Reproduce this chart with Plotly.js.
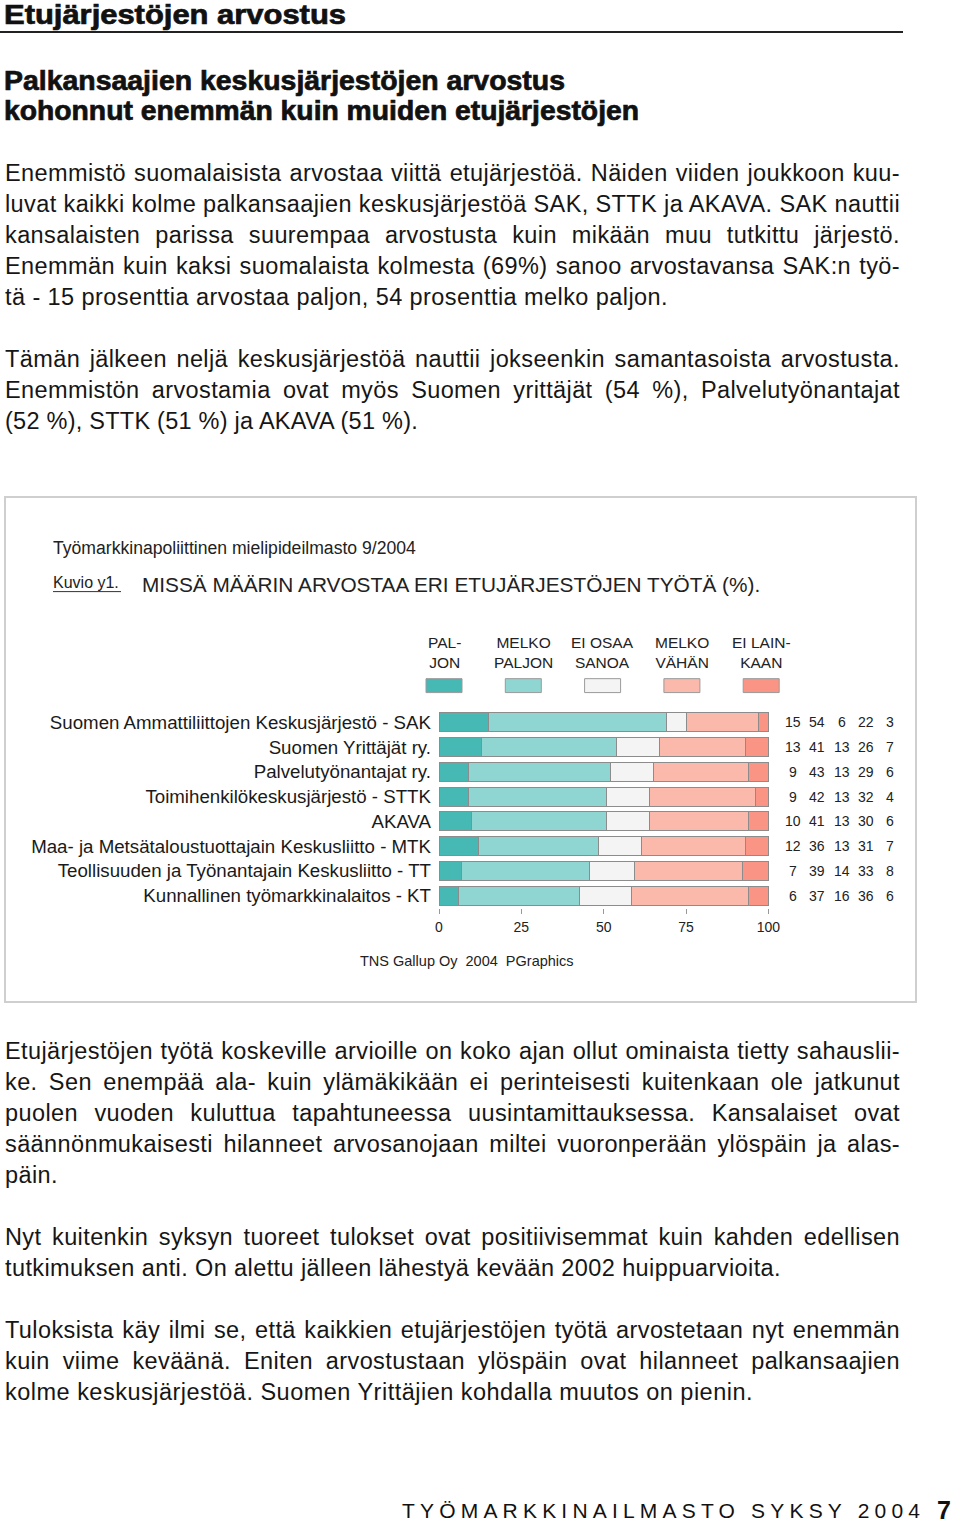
<!DOCTYPE html>
<html><head><meta charset="utf-8">
<script src="https://cdn.plot.ly/plotly-3.0.1.min.js"></script>
<style>
html,body{margin:0;padding:0;background:#fff;}
body{width:960px;height:1523px;position:relative;overflow:hidden;font-family:"Liberation Sans",Arial,sans-serif;color:#161616;}
.ln{position:absolute;left:5px;white-space:nowrap;font-family:"Liberation Sans Narrow","Liberation Sans",sans-serif;font-size:23.5px;line-height:30px;display:inline-block;}
.hd{position:absolute;left:4px;white-space:nowrap;font-family:"Liberation Sans Narrow","Liberation Sans",sans-serif;font-weight:bold;font-size:27px;line-height:28px;transform-origin:0 50%;display:inline-block;color:#111;-webkit-text-stroke:0.7px #111;}
#rule{position:absolute;left:0;top:31px;width:903px;height:0;border-top:2px solid #222;}
#box{position:absolute;left:4px;top:496px;width:913px;height:507px;box-sizing:border-box;border:2px solid #cfcfcf;}
#chart{position:absolute;left:0;top:0;width:960px;height:1523px;z-index:2;}
#foot{position:absolute;left:402px;top:1498px;font-size:21px;line-height:26px;white-space:nowrap;display:inline-block;color:#111;}
#pg{position:absolute;left:937px;top:1497px;font-size:25px;font-weight:bold;line-height:26px;color:#111;}
</style></head><body>
<div class="hd" style="top:1px" data-w="342">Etujärjestöjen arvostus</div>
<div id="rule"></div>
<div class="hd" style="top:67px" data-w="561">Palkansaajien keskusjärjestöjen arvostus</div>
<div class="hd" style="top:97px" data-w="635">kohonnut enemmän kuin muiden etujärjestöjen</div>

<div class="ln" style="top:158px" data-w="895">Enemmistö suomalaisista arvostaa viittä etujärjestöä. Näiden viiden joukkoon kuu-</div>
<div class="ln" style="top:189px" data-w="895">luvat kaikki kolme palkansaajien keskusjärjestöä SAK, STTK ja AKAVA. SAK nauttii</div>
<div class="ln" style="top:220px" data-w="895">kansalaisten parissa suurempaa arvostusta kuin mikään muu tutkittu järjestö.</div>
<div class="ln" style="top:251px" data-w="895">Enemmän kuin kaksi suomalaista kolmesta (69%) sanoo arvostavansa SAK:n työ-</div>
<div class="ln last" style="top:282px" data-w="663">tä - 15 prosenttia arvostaa paljon, 54 prosenttia melko paljon.</div>

<div class="ln" style="top:344px" data-w="895">Tämän jälkeen neljä keskusjärjestöä nauttii jokseenkin samantasoista arvostusta.</div>
<div class="ln" style="top:375px" data-w="895">Enemmistön arvostamia ovat myös Suomen yrittäjät (54 %), Palvelutyönantajat</div>
<div class="ln last" style="top:406px" data-w="413">(52 %), STTK (51 %) ja AKAVA (51 %).</div>

<div id="box"></div>

<div class="ln" style="top:1036px" data-w="895">Etujärjestöjen työtä koskeville arvioille on koko ajan ollut ominaista tietty sahauslii-</div>
<div class="ln" style="top:1067px" data-w="895">ke. Sen enempää ala- kuin ylämäkikään ei perinteisesti kuitenkaan ole jatkunut</div>
<div class="ln" style="top:1098px" data-w="895">puolen vuoden kuluttua tapahtuneessa uusintamittauksessa. Kansalaiset ovat</div>
<div class="ln" style="top:1129px" data-w="895">säännönmukaisesti hilanneet arvosanojaan miltei vuoronperään ylöspäin ja alas-</div>
<div class="ln last" style="top:1160px" data-w="53">päin.</div>

<div class="ln" style="top:1222px" data-w="895">Nyt kuitenkin syksyn tuoreet tulokset ovat positiivisemmat kuin kahden edellisen</div>
<div class="ln last" style="top:1253px" data-w="776">tutkimuksen anti. On alettu jälleen lähestyä kevään 2002 huippuarvioita.</div>

<div class="ln" style="top:1315px" data-w="895">Tuloksista käy ilmi se, että kaikkien etujärjestöjen työtä arvostetaan nyt enemmän</div>
<div class="ln" style="top:1346px" data-w="895">kuin viime keväänä. Eniten arvostustaan ylöspäin ovat hilanneet palkansaajien</div>
<div class="ln last" style="top:1377px" data-w="748">kolme keskusjärjestöä. Suomen Yrittäjien kohdalla muutos on pienin.</div>

<div id="foot" data-w="518">TYÖMARKKINAILMASTO SYKSY 2004</div>
<div id="pg">7</div>

<div id="chart"></div>
<script>
// ---- data ----
const organisations = [
  "Suomen Ammattiliittojen Keskusjärjestö - SAK",
  "Suomen Yrittäjät ry.",
  "Palvelutyönantajat ry.",
  "Toimihenkilökeskusjärjestö - STTK",
  "AKAVA",
  "Maa- ja Metsätaloustuottajain Keskusliitto - MTK",
  "Teollisuuden ja Työnantajain Keskusliitto - TT",
  "Kunnallinen työmarkkinalaitos - KT"
];
const seriesNames = ["PAL-<br>JON", "MELKO<br>PALJON", "EI OSAA<br>SANOA", "MELKO<br>VÄHÄN", "EI LAIN-<br>KAAN"];
const paljon      = [15, 13,  9,  9, 10, 12,  7,  6];
const melkoPaljon = [54, 41, 43, 42, 41, 36, 39, 37];
const eiOsaaSanoa = [ 6, 13, 13, 13, 13, 13, 14, 16];
const melkoVahan  = [22, 26, 29, 32, 30, 31, 33, 36];
const eiLainkaan  = [ 3,  7,  6,  4,  6,  7,  8,  6];
const xTicks = [0, 25, 50, 75, 100];
const colors = ["#47b9b4", "#8fd6d2", "#f4f4f4", "#fbb9ac", "#fa9585"];

const series = [paljon, melkoPaljon, eiOsaaSanoa, melkoVahan, eiLainkaan];
const totals = organisations.map((_, i) => series.reduce((s, a) => s + a[i], 0));

// ---- page geometry helpers (pixel -> paper) ----
const L = 439, R = 769, T = 709.5, B = 908.5;
const PX = p => (p - L) / (R - L);
const PY = p => (B - p) / (B - T);

const NARROW = '"Liberation Sans Narrow", "Liberation Sans", Arial, sans-serif';
const SANS = '"Liberation Sans", Arial, sans-serif';

const traces = series.map((vals, k) => ({
  type: 'bar', orientation: 'h',
  y: organisations,
  x: vals.map((v, i) => v / totals[i] * 100),
  marker: {color: colors[k], line: {color: '#8c8c8c', width: 1}},
  hoverinfo: 'skip', showlegend: false
}));

const annotations = [];
const shapes = [];
// value table
series.forEach((vals, k) => {
  vals.forEach((v, i) => {
    annotations.push({
      xref: 'paper', yref: 'y', x: PX(793 + k * 24.3), y: organisations[i],
      text: String(v), showarrow: false, xanchor: 'center', yanchor: 'middle',
      borderpad: 0, font: {family: SANS, size: 14, color: '#222'}
    });
  });
});
// legend
seriesNames.forEach((n, k) => {
  const cx = 444 + k * 79.3;
  annotations.push({
    xref: 'paper', yref: 'paper', x: PX(cx), y: PY(652),
    text: n, showarrow: false, xanchor: 'center', yanchor: 'middle', borderpad: 0,
    font: {family: NARROW, size: 15.5, color: '#222'}
  });
  shapes.push({
    type: 'rect', xref: 'paper', yref: 'paper',
    x0: PX(cx - 18), x1: PX(cx + 18), y0: PY(692), y1: PY(678),
    fillcolor: colors[k], line: {color: '#9a9a9a', width: 1}
  });
});
// titles inside the chart box
annotations.push({xref: 'paper', yref: 'paper', x: PX(52), y: PY(547), xanchor: 'left', yanchor: 'middle',
  text: 'Työmarkkinapoliittinen mielipideilmasto 9/2004', showarrow: false, borderpad: 0,
  font: {family: NARROW, size: 17.6, color: '#222'}});
annotations.push({xref: 'paper', yref: 'paper', x: PX(52), y: PY(581), xanchor: 'left', yanchor: 'middle',
  text: 'Kuvio y1.', showarrow: false, borderpad: 0,
  font: {family: NARROW, size: 16, color: '#222'}});
shapes.push({type: 'line', xref: 'paper', yref: 'paper', x0: PX(53), x1: PX(121), y0: PY(590.5), y1: PY(590.5),
  line: {color: '#333', width: 1}});
annotations.push({xref: 'paper', yref: 'paper', x: PX(141), y: PY(583), xanchor: 'left', yanchor: 'middle',
  text: 'MISSÄ MÄÄRIN ARVOSTAA ERI ETUJÄRJESTÖJEN TYÖTÄ (%).', showarrow: false, borderpad: 0,
  font: {family: NARROW, size: 20.8, color: '#222'}});
annotations.push({xref: 'paper', yref: 'paper', x: PX(467), y: PY(962), xanchor: 'center', yanchor: 'middle',
  text: 'TNS Gallup Oy\u00a0\u00a02004\u00a0\u00a0PGraphics', showarrow: false, borderpad: 0,
  font: {family: SANS, size: 14.5, color: '#222'}});

const layout = {
  width: 960, height: 1523,
  margin: {l: L, r: 960 - R, t: T, b: 1523 - B, pad: 0},
  paper_bgcolor: 'rgba(0,0,0,0)', plot_bgcolor: 'rgba(0,0,0,0)',
  barmode: 'stack', bargap: 0.23,
  showlegend: false,
  xaxis: {range: [0, 100.2], tickvals: xTicks, ticktext: xTicks.map(String),
    ticks: 'outside', ticklen: 5, tickcolor: '#999', tickwidth: 1,
    showgrid: false, zeroline: false, showline: false, ticklabelstandoff: 1,
    tickfont: {family: SANS, size: 14, color: '#222'}, fixedrange: true},
  yaxis: {type: 'category', autorange: 'reversed', showgrid: false, zeroline: false, showline: false,
    ticks: '', ticklabelstandoff: 7,
    tickfont: {family: SANS, size: 18.7, color: '#1a1a1a'}, fixedrange: true},
  annotations, shapes
};

Plotly.newPlot('chart', traces, layout, {staticPlot: true, displayModeBar: false});

// ---- text fitting for the surrounding page ----
function fitAll() {
  const lines = Array.from(document.querySelectorAll('.ln[data-w]'));
  lines.forEach(el => { el.style.wordSpacing = '0px'; el.style.letterSpacing = '0px'; });
  const lsVals = [];
  lines.filter(el => el.classList.contains('last')).forEach(el => {
    const w = el.getBoundingClientRect().width;
    const n = el.textContent.length;
    const ls = (+el.dataset.w - w) / n;
    el.style.letterSpacing = ls + 'px';
    if (n > 10) lsVals.push(ls);
  });
  const LS = lsVals.length ? lsVals.reduce((a, b) => a + b, 0) / lsVals.length : 0;
  lines.filter(el => !el.classList.contains('last')).forEach(el => {
    el.style.letterSpacing = LS + 'px';
    const w = el.getBoundingClientRect().width;
    const n = (el.textContent.match(/ /g) || []).length;
    if (n) el.style.wordSpacing = ((+el.dataset.w - w) / n) + 'px';
  });
  document.querySelectorAll('.hd[data-w]').forEach(el => {
    el.style.transform = 'none';
    const w = el.getBoundingClientRect().width;
    el.style.transform = 'scaleX(' + (+el.dataset.w / w) + ')';
  });
  const f = document.getElementById('foot');
  f.style.letterSpacing = '0px';
  const w = f.getBoundingClientRect().width;
  f.style.letterSpacing = ((+f.dataset.w - w) / (f.textContent.length - 1)) + 'px';
}
fitAll();
if (document.fonts && document.fonts.ready) document.fonts.ready.then(fitAll);
</script>
</body></html>
